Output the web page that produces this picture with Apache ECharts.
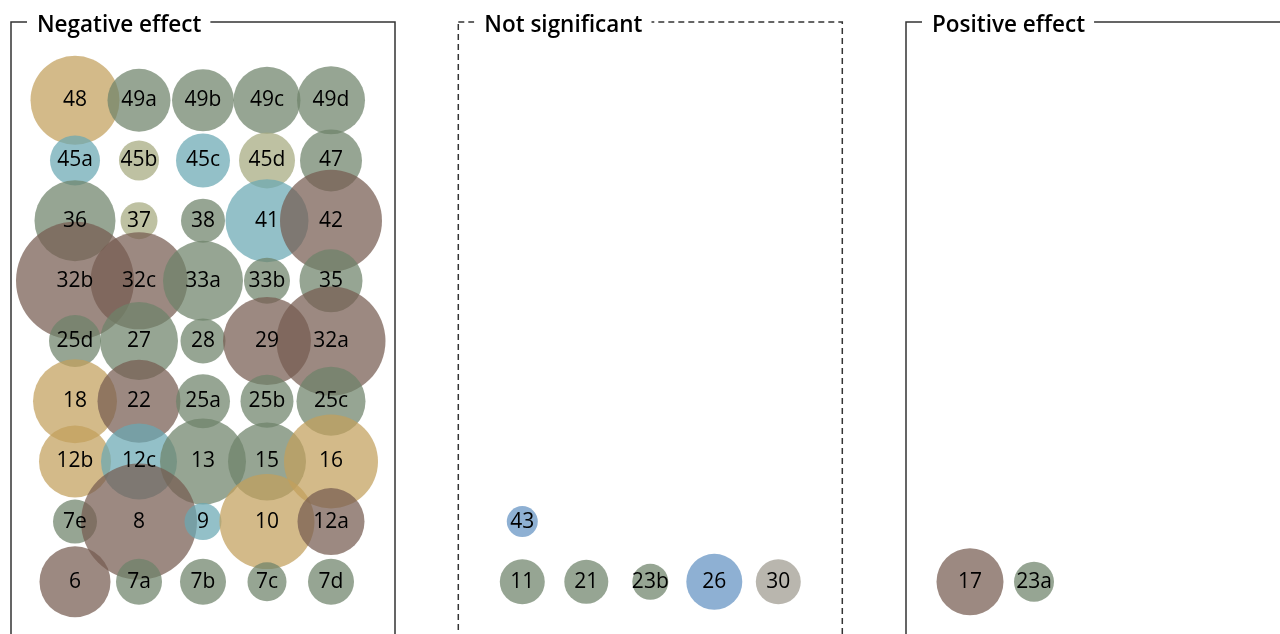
<!DOCTYPE html>
<html>
<head>
<meta charset="utf-8">
<script src="https://cdn.jsdelivr.net/npm/echarts@6/dist/echarts.min.js"></script>
<style>
html,body{margin:0;padding:0;background:#fff;}
#chart{width:1280px;height:634px;}
</style>
</head>
<body>
<div id="chart"></div>
<script>
// ---- Data ----
const panelTitles = ['Negative effect', 'Not significant', 'Positive effect'];

// Negative effect panel (grid rows 9 = top ... 1 = bottom, columns 1..5)
const negLabels = ['48','49a','49b','49c','49d',
                   '45a','45b','45c','45d','47',
                   '36','37','38','41','42',
                   '32b','32c','33a','33b','35',
                   '25d','27','28','29','32a',
                   '18','22','25a','25b','25c',
                   '12b','12c','13','15','16',
                   '7e','8','9','10','12a',
                   '6','7a','7b','7c','7d'];
const negCol = [1,2,3,4,5, 1,2,3,4,5, 1,2,3,4,5, 1,2,3,4,5, 1,2,3,4,5, 1,2,3,4,5, 1,2,3,4,5, 1,2,3,4,5, 1,2,3,4,5];
const negRow = [9,9,9,9,9, 8,8,8,8,8, 7,7,7,7,7, 6,6,6,6,6, 5,5,5,5,5, 4,4,4,4,4, 3,3,3,3,3, 2,2,2,2,2, 1,1,1,1,1];
const negSize = [89,63,62,67,68,
                 50,40,54,56,62,
                 81,37,44,83,102,
                 118,97,80,46,63,
                 52,78,45,88,109,
                 84,83,54,53,69,
                 72,76,86,78,94,
                 44,116,37,95,67,
                 71,46,46,39,46];
const negType = ['tan','green','green','green','green',
                 'teal','khaki','teal','khaki','green',
                 'green','khaki','green','teal','brown',
                 'brown','brown','green','green','green',
                 'green','green','green','brown','brown',
                 'tan','brown','green','green','green',
                 'tan','teal','green','green','tan',
                 'green','brown','teal','tan','brown',
                 'brown','green','green','green','green'];

// Not significant panel
const nsLabels = ['43','11','21','23b','26','30'];
const nsCol    = [1, 1, 2, 3, 4, 5];
const nsRow    = [2, 1, 1, 1, 1, 1];
const nsSize   = [31, 45, 44, 36, 56, 45];
const nsType   = ['blue','green','green','green','blue','gray'];

// Positive effect panel
const posLabels = ['17','23a'];
const posCol    = [1, 2];
const posRow    = [1, 1];
const posSize   = [67, 40];
const posType   = ['brown','green'];

// ---- Styles ----
const ALPHA = 0.72;
const palette = {
  tan:   [194, 160, 92],
  green: [109, 130, 105],
  teal:  [105, 168, 179],
  khaki: [165, 169, 126],
  brown: [118, 91, 81],
  blue:  [99, 145, 194],
  gray:  [158, 154, 143]
};
function rgba(c) { return 'rgba(' + c[0] + ',' + c[1] + ',' + c[2] + ',' + ALPHA + ')'; }

const panelLefts = [11, 458.3, 906];
const panelWidth = 384;
const FONT = '"Open Sans", "Noto Sans", sans-serif';

function buildData(labels, cols, rows, sizes, types) {
  return labels.map((l, i) => ({
    name: l,
    value: [cols[i], rows[i], sizes[i]],
    itemStyle: { color: rgba(palette[types[i]]), opacity: 1 }
  }));
}

const panels = [
  buildData(negLabels, negCol, negRow, negSize, negType),
  buildData(nsLabels, nsCol, nsRow, nsSize, nsType),
  buildData(posLabels, posCol, posRow, posSize, posType)
];

const grids = panelLefts.map((left, i) => ({
  left: left, width: panelWidth, top: 22, height: 620,
  outerBoundsMode: 'none',
  show: true, backgroundColor: 'transparent',
  borderColor: '#333', borderWidth: 1.5,
  borderType: i === 1 ? [6, 4] : 'solid',
  containLabel: false
}));

const xAxes = panelLefts.map((_, i) => ({
  gridIndex: i, type: 'value', min: 0, max: 6, show: false
}));
const yAxes = panelLefts.map((_, i) => ({
  gridIndex: i, type: 'value', min: 0, max: 10.3, show: false
}));

const series = panels.map((data, i) => ({
  type: 'scatter',
  xAxisIndex: i, yAxisIndex: i,
  data: data,
  symbol: 'circle',
  symbolSize: (v) => v[2],
  itemStyle: { opacity: 1 },
  label: {
    show: true, position: 'inside',
    formatter: (p) => p.name,
    color: '#000', fontSize: 21, fontWeight: 500, fontFamily: FONT
  },
  emphasis: { disabled: true },
  silent: true,
  animation: false
}));

const titles = panelTitles.map((t, i) => ({
  text: t,
  left: panelLefts[i] + 16,
  top: 10,
  padding: [2, 9, 2, 10],
  backgroundColor: '#fff',
  textStyle: { fontSize: 22.5, fontWeight: 600, color: '#000', fontFamily: FONT, lineHeight: 28 }
}));

const chart = echarts.init(document.getElementById('chart'), null, { renderer: 'canvas' });
chart.setOption({
  animation: false,
  backgroundColor: '#fff',
  title: titles,
  grid: grids,
  xAxis: xAxes,
  yAxis: yAxes,
  series: series
});
</script>
</body>
</html>
